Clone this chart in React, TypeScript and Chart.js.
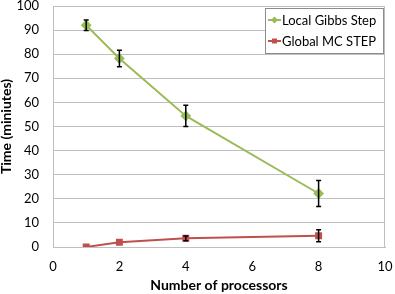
import React, { useEffect, useRef } from "react";
import { Chart, registerables } from "chart.js";

Chart.register(...registerables);

const processors = [1, 2, 4, 8];
const localGibbs = [92.0, 78.2, 54.4, 22.2];
const localGibbsErr = [2.2, 3.4, 4.4, 5.4];
const globalMC = [0.0, 2.0, 3.6, 4.7];
const globalMCErr = [0, 0, 1.0, 2.5];
const seriesNames = ["Local Gibbs Step", "Global MC STEP"];
const xTitle = "Number of processors";
const yTitle = "Time (miniutes)";

const GREEN = "#9bbb59";
const RED = "#c0504d";
const FONT = "Lato, 'Noto Sans', sans-serif";

const errorBars = {
  id: "errorBars",
  afterDatasetsDraw(chart: any) {
    const ctx = chart.ctx;
    const xs = chart.scales.x;
    const ys = chart.scales.y;
    ctx.save();
    ctx.strokeStyle = "#000";
    ctx.lineWidth = 1.5;
    chart.data.datasets.forEach((ds: any) => {
      const errs: number[] = ds.errors || [];
      ds.data.forEach((p: any, i: number) => {
        const e = errs[i];
        if (!e) return;
        const px = xs.getPixelForValue(p.x);
        const y1 = ys.getPixelForValue(p.y + e);
        const y2 = ys.getPixelForValue(p.y - e);
        ctx.beginPath();
        ctx.moveTo(px, y1);
        ctx.lineTo(px, y2);
        ctx.moveTo(px - 2.5, y1);
        ctx.lineTo(px + 2.5, y1);
        ctx.moveTo(px - 2.5, y2);
        ctx.lineTo(px + 2.5, y2);
        ctx.stroke();
      });
    });
    ctx.restore();
  },
};

const frameAndLegend = {
  id: "frameAndLegend",
  afterDraw(chart: any) {
    const ctx = chart.ctx;
    const a = chart.chartArea;
    ctx.save();
    ctx.strokeStyle = "#bfbfbf";
    ctx.lineWidth = 1;
    ctx.beginPath();
    ctx.moveTo(Math.round(a.right) - 0.5, a.top);
    ctx.lineTo(Math.round(a.right) - 0.5, a.bottom);
    ctx.stroke();
    const w = 118;
    const h = 45;
    const lx = Math.round(a.right) - w - 2;
    const ly = Math.round(a.top) + 2;
    ctx.fillStyle = "#fff";
    ctx.fillRect(lx, ly, w, h);
    ctx.strokeStyle = "#8c8c8c";
    ctx.strokeRect(lx + 0.5, ly + 0.5, w, h);
    ctx.font = `13px ${FONT}`;
    ctx.textBaseline = "middle";
    ctx.textAlign = "left";
    chart.data.datasets.forEach((ds: any, i: number) => {
      const cy = ly + 12 + i * 21;
      ctx.strokeStyle = ds.borderColor;
      ctx.lineWidth = 2;
      ctx.beginPath();
      ctx.moveTo(lx + 3, cy);
      ctx.lineTo(lx + 16, cy);
      ctx.stroke();
      ctx.fillStyle = ds.borderColor;
      const cx = lx + 9.5;
      if (i === 0) {
        ctx.beginPath();
        ctx.moveTo(cx, cy - 3.5);
        ctx.lineTo(cx + 3.5, cy);
        ctx.lineTo(cx, cy + 3.5);
        ctx.lineTo(cx - 3.5, cy);
        ctx.closePath();
        ctx.fill();
      } else {
        ctx.fillRect(cx - 2.5, cy - 2.5, 5, 5);
      }
      ctx.fillStyle = "#000";
      ctx.fillText(ds.label, lx + 17, cy + 1);
    });
    ctx.restore();
  },
};

export default function App() {
  const ref = useRef<HTMLCanvasElement>(null);
  useEffect(() => {
    if (!ref.current) return;
    const chart = new Chart(ref.current, {
      type: "scatter",
      data: {
        datasets: [
          {
            label: seriesNames[0],
            data: processors.map((x, i) => ({ x, y: localGibbs[i] })),
            errors: localGibbsErr,
            showLine: true,
            borderColor: GREEN,
            backgroundColor: GREEN,
            borderWidth: 2,
            pointStyle: "rectRot",
            pointRadius: 4,
          } as any,
          {
            label: seriesNames[1],
            data: processors.map((x, i) => ({ x, y: globalMC[i] })),
            errors: globalMCErr,
            showLine: true,
            borderColor: RED,
            backgroundColor: RED,
            borderWidth: 2,
            pointStyle: "rect",
            pointRadius: 3.5,
          } as any,
        ],
      },
      options: {
        responsive: false,
        animation: false,
        layout: { padding: { left: 0, right: 10, top: 5, bottom: 0 } },
        plugins: {
          legend: { display: false },
          tooltip: { enabled: false },
        },
        scales: {
          x: {
            type: "linear",
            min: 0,
            max: 10,
            ticks: { stepSize: 2, color: "#000", font: { family: FONT, size: 13 }, padding: 12 },
            grid: { display: false, drawTicks: false },
            border: { color: "#bfbfbf" },
            title: {
              display: true,
              text: xTitle,
              color: "#000",
              font: { family: FONT, size: 14, weight: "bold" },
              padding: { top: 2, bottom: 0 },
            },
            afterFit(scale: any) {
              scale.height = 47;
              scale.paddingLeft = 0;
              scale.paddingRight = 0;
            },
          },
          y: {
            min: 0,
            max: 100,
            ticks: { stepSize: 10, color: "#000", font: { family: FONT, size: 13 }, padding: 14 },
            grid: { color: "#bfbfbf", drawTicks: false },
            border: { color: "#bfbfbf" },
            title: {
              display: true,
              text: yTitle,
              color: "#000",
              font: { family: FONT, size: 14, weight: "bold" },
              padding: { top: -2, bottom: 0 },
            },
            afterFit(scale: any) {
              scale.width = 53;
              scale.paddingTop = 0;
              scale.paddingBottom = 0;
            },
          },
        },
      },
      plugins: [errorBars, frameAndLegend],
    });
    return () => chart.destroy();
  }, []);
  return (
    <div style={{ position: "fixed", left: 0, top: 0, width: 395, height: 294, background: "#fff" }}>
      <canvas ref={ref} width={395} height={294} />
    </div>
  );
}
